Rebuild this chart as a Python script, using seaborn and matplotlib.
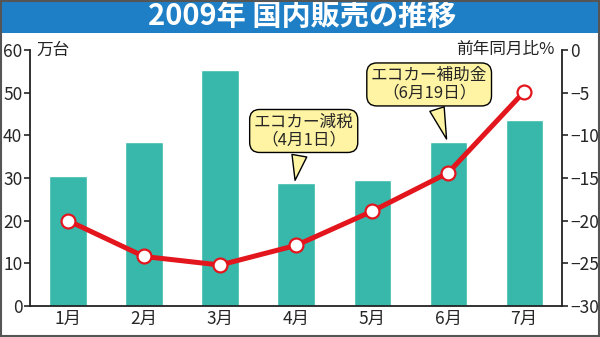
import matplotlib
matplotlib.use("Agg")
import matplotlib.pyplot as plt
import seaborn as sns
import numpy as np
import pandas as pd
from matplotlib.patches import Rectangle

months = ["1月", "2月", "3月", "4月", "5月", "6月", "7月"]
sales = [30.4, 38.4, 55.2, 28.8, 29.5, 38.5, 43.6]          # 万台
yoy = [-20.0, -24.2, -25.2, -22.9, -18.9, -14.4, -4.9]      # 前年同月比%
left_ticks = [0, 10, 20, 30, 40, 50, 60]
right_ticks = [0, -5, -10, -15, -20, -25, -30]
title = "2009年 国内販売の推移"
notes = ["エコカー減税\n（4月1日）", "エコカー補助金\n（6月19日）"]
note_months = ["4月", "6月"]

sns.set_theme(style="white")
plt.rcParams["font.family"] = ["Noto Sans CJK JP", "DejaVu Sans"]
plt.rcParams["axes.unicode_minus"] = True

BAR = "#38b7ab"
RED = "#e3151d"

fig = plt.figure(figsize=(6.0, 3.37), dpi=100)
fig.patch.set_facecolor("white")
ax = fig.add_axes([0.05, 0.092, 0.887, 0.76])

df = pd.DataFrame({"month": months, "sales": sales, "yoy": yoy})
sns.barplot(data=df, x="month", y="sales", color=BAR, width=0.49,
            saturation=1, ax=ax, zorder=1)
ax.set_xlim(-0.5, 6.5)
ax.set_ylim(0, 60)
ax.set_yticks(left_ticks)
ax.set_yticklabels([str(t) for t in left_ticks], fontsize=12.5)
ax.set_xlabel("")
ax.set_ylabel("")
ax.tick_params(axis="x", length=0, pad=3, labelsize=12.5)
ax.tick_params(axis="y", length=4, width=1.2, pad=1.5, direction="out", left=True)
for s in ["left", "bottom"]:
    ax.spines[s].set_color("#222222")
    ax.spines[s].set_linewidth(1.3)
ax.spines["top"].set_visible(False)
ax.spines["right"].set_visible(False)

ax2 = ax.twinx()
xpos = np.arange(len(months))
sns.lineplot(x=xpos, y=yoy, ax=ax2, color=RED, linewidth=3.6, marker="o",
             markersize=10, markerfacecolor="white", markeredgecolor=RED,
             markeredgewidth=1.6, zorder=3)
ax2.set_ylim(-30, 0)
ax2.set_yticks(right_ticks)
ax2.set_yticklabels(["0" if t == 0 else "\u2212" + str(abs(t)) for t in right_ticks],
                    fontsize=12.5)
ax2.tick_params(axis="y", length=4, width=1.2, pad=1.5, direction="out", right=True)
ax2.set_ylabel("")
for s in ["top", "left", "bottom"]:
    ax2.spines[s].set_visible(False)
ax2.spines["right"].set_color("#222222")
ax2.spines["right"].set_linewidth(1.3)
ax2.set_xlim(-0.5, 6.5)

# axis unit labels
ax.text(0.012, 1.0, "万台", transform=ax.transAxes, ha="left", va="center",
        fontsize=12, color="#222222")
ax2.text(0.985, 1.0, "前年同月比%", transform=ax.transAxes, ha="right", va="center",
         fontsize=12, color="#222222")

# callouts
YEL = "#fff4a3"
i4 = months.index(note_months[0])
i6 = months.index(note_months[1])
ax.annotate(notes[0], xy=(i4 - 0.02, sales[i4]), xytext=(3.1, 41.0),
            ha="center", va="center", fontsize=12, linespacing=1.05,
            bbox=dict(boxstyle="round,pad=0.25,rounding_size=0.6", fc=YEL, ec="black", lw=1),
            arrowprops=dict(arrowstyle="wedge,tail_width=0.9,shrink_factor=0.5",
                            fc=YEL, ec="black", lw=1), zorder=5)
ax.annotate(notes[1], xy=(i6 - 0.01, sales[i6]), xytext=(4.75, 51.9),
            ha="center", va="center", fontsize=12, linespacing=1.05,
            bbox=dict(boxstyle="round,pad=0.25,rounding_size=0.6", fc=YEL, ec="black", lw=1),
            arrowprops=dict(arrowstyle="wedge,tail_width=0.9,shrink_factor=0.5",
                            fc=YEL, ec="black", lw=1), zorder=5)

# title band
fig.patches.append(Rectangle((0, 1 - 33 / 337), 1, 33 / 337, transform=fig.transFigure,
                             facecolor="#1f7fc6", edgecolor="none", zorder=0))
fig.text(0.503, 1 - 17 / 337, title, ha="center", va="center", color="white",
         fontsize=21, fontweight="bold")
# outer frame
fig.patches.append(Rectangle((0.001, 0.0015), 0.998, 0.997, transform=fig.transFigure,
                             facecolor="none", edgecolor="#555555", lw=1.5, zorder=10))

fig.savefig("out.png", dpi=100)
